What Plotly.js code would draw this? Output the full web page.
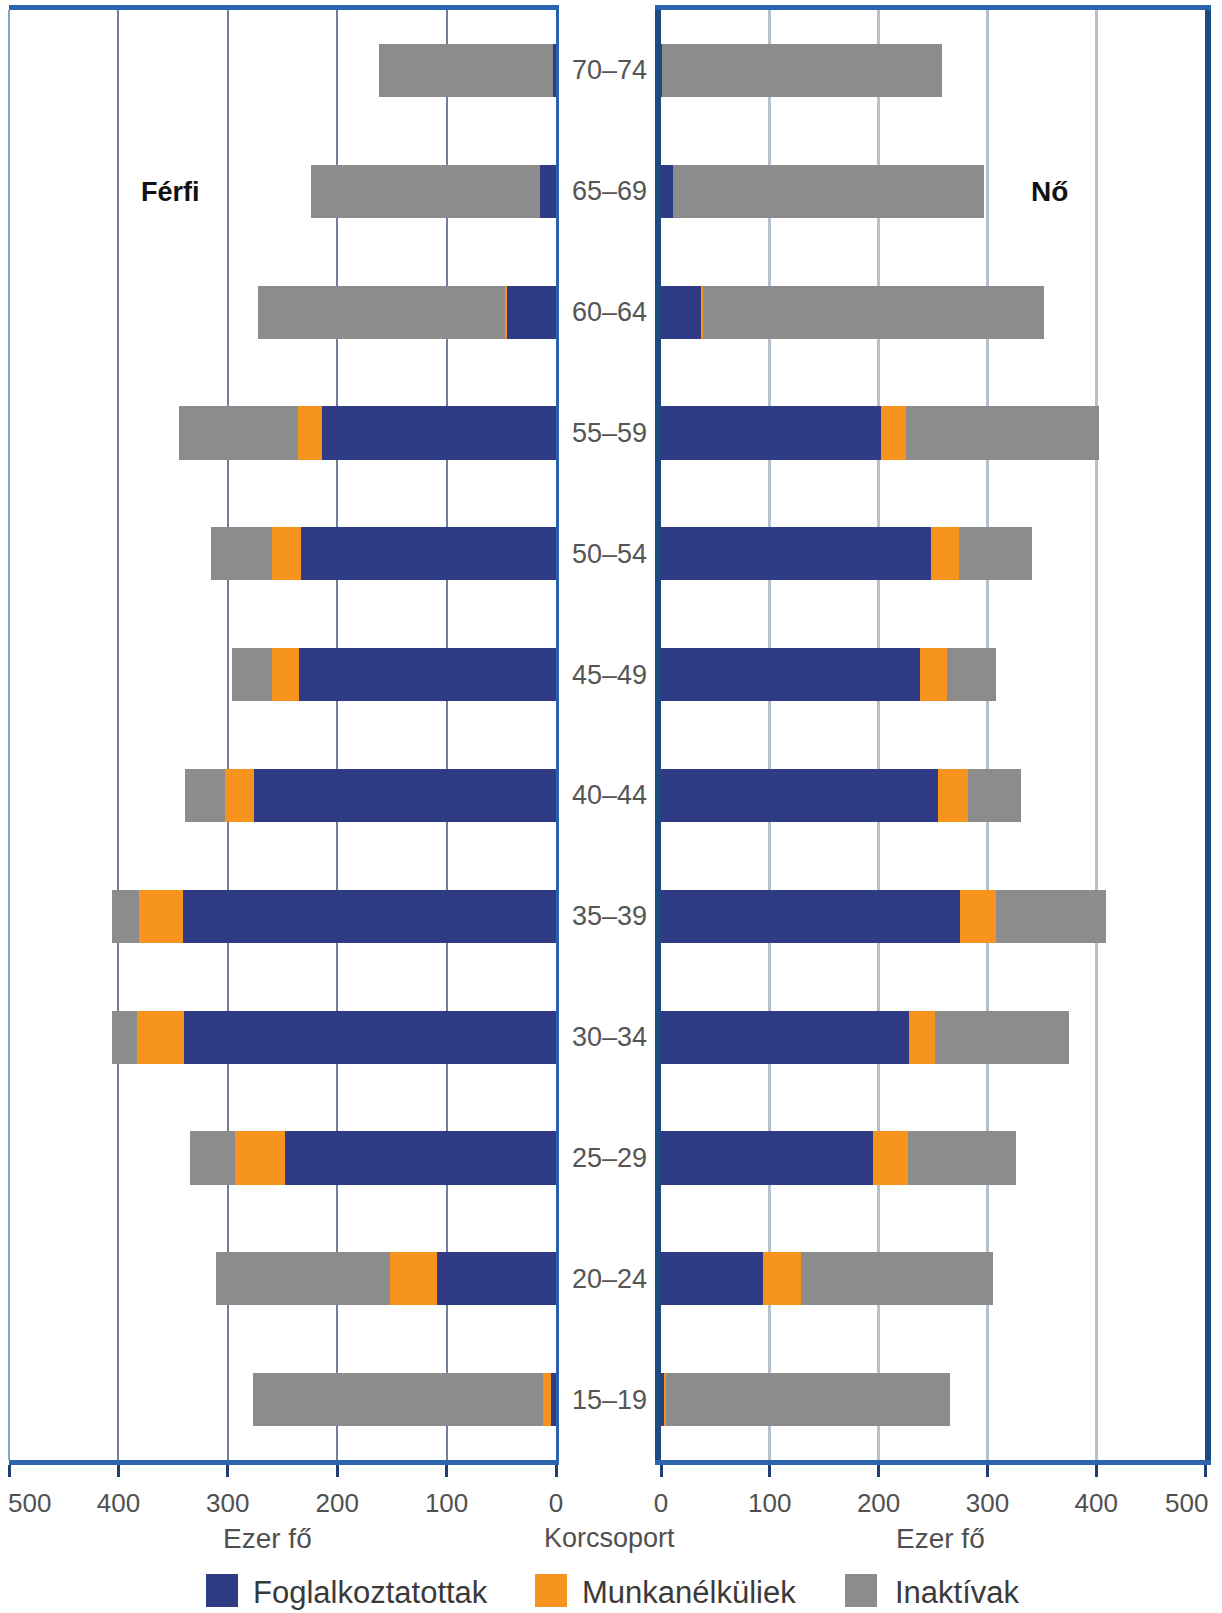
<!DOCTYPE html>
<html>
<head>
<meta charset="utf-8">
<script src="https://cdn.plot.ly/plotly-3.0.1.min.js"></script>
<style>html,body{margin:0;padding:0;background:#fff;}#chart{width:1222px;height:1613px;}</style>
</head>
<body>
<div id="chart"></div>
<script>
// ---- data (ezer fő) ----
const ageGroups = ['15–19','20–24','25–29','30–34','35–39','40–44','45–49','50–54','55–59','60–64','65–69','70–74'];
const seriesNames = ['Foglalkoztatottak','Munkanélküliek','Inaktívak'];
const maleEmployed   = [5, 109, 248, 340, 341, 276, 235, 233, 214, 45, 15, 3];
const maleUnemployed = [7, 43, 45, 43, 40, 27, 25, 27, 22, 2, 0, 0];
const maleInactive   = [265, 159, 42, 23, 25, 36, 36, 55, 109, 225, 209, 159];
const femaleEmployed   = [3, 94, 195, 228, 275, 255, 238, 248, 202, 37, 11, 1];
const femaleUnemployed = [2, 35, 32, 24, 33, 27, 25, 26, 23, 2, 0, 0];
const femaleInactive   = [261, 176, 99, 123, 101, 49, 45, 67, 178, 313, 286, 257];
const xTicks = [0, 100, 200, 300, 400, 500];
const panelLabels = ['Férfi', 'Nő'];
const axisTitle = 'Ezer fő';
const centerTitle = 'Korcsoport';

// ---- styling ----
const colors = ['#303b85', '#f7941d', '#8c8c8c'];
const FONT = '"Liberation Sans", Arial, sans-serif';
const W = 1222, H = 1613;
const px = v => v / W;
const py = v => 1 - v / H;
const leftDom = [px(9), px(556)];
const rightDom = [px(661), px(1205)];
const yDom = [py(1460), py(10)];
const xMax = xTicks[xTicks.length - 1];

const maleSeries = [maleEmployed, maleUnemployed, maleInactive];
const femaleSeries = [femaleEmployed, femaleUnemployed, femaleInactive];

const traces = [];
maleSeries.forEach((vals, i) => {
  traces.push({type: 'bar', orientation: 'h', name: seriesNames[i], x: vals, y: ageGroups,
    xaxis: 'x', yaxis: 'y', marker: {color: colors[i], line: {width: 0}}, showlegend: false, hoverinfo: 'x+y+name'});
});
femaleSeries.forEach((vals, i) => {
  traces.push({type: 'bar', orientation: 'h', name: seriesNames[i], x: vals, y: ageGroups,
    xaxis: 'x2', yaxis: 'y2', marker: {color: colors[i], line: {width: 0}}, showlegend: false, hoverinfo: 'x+y+name'});
});

const tickFont = {family: FONT, size: 26, color: '#505050'};
// the edge label (500) is drawn as a nudged annotation so it stays inside the page
const tickText = xTicks.map(v => v === xMax ? '' : String(v));
const commonX = {
  tickvals: xTicks, ticktext: tickText, tickfont: tickFont,
  showline: true, linecolor: '#2c64ae', linewidth: 5, mirror: true,
  ticks: 'outside', ticklen: 12, tickwidth: 3, tickcolor: '#1f3d70',
  zeroline: false, fixedrange: true, ticklabelstandoff: 4
};

const layout = {
  width: W, height: H,
  margin: {l: 0, r: 0, t: 0, b: 0},
  paper_bgcolor: '#ffffff', plot_bgcolor: '#ffffff',
  barmode: 'stack', bargap: 0.56,
  font: {family: FONT},
  xaxis: Object.assign({}, commonX, {domain: leftDom, range: [xMax, 0], anchor: 'y',
    showgrid: true, gridcolor: '#71809a', gridwidth: 2}),
  xaxis2: Object.assign({}, commonX, {domain: rightDom, range: [0, xMax], anchor: 'y2',
    showgrid: true, gridcolor: '#b7c0cd', gridwidth: 3}),
  yaxis: {domain: yDom, anchor: 'x', side: 'right', type: 'category', categoryarray: ageGroups,
    range: [-0.5, ageGroups.length - 0.5], showticklabels: false, ticks: '', showgrid: false,
    zeroline: false, showline: true, linecolor: '#2a62b0', linewidth: 3, fixedrange: true},
  yaxis2: {domain: yDom, anchor: 'x2', side: 'left', matches: 'y', type: 'category',
    showticklabels: false, ticks: '', showgrid: false, zeroline: false,
    showline: true, linecolor: '#1d4a80', linewidth: 6, mirror: true, fixedrange: true},
  shapes: [
    {type: 'line', xref: 'paper', yref: 'paper', x0: leftDom[0], x1: leftDom[0], y0: yDom[0], y1: yDom[1],
      line: {color: '#8fa3c0', width: 2}}
  ],
  annotations: []
};

// edge tick labels (500), nudged inward like in the original
layout.annotations.push({xref: 'x', yref: 'paper', x: xMax, y: py(1503), xshift: 20, text: String(xMax),
  showarrow: false, xanchor: 'center', yanchor: 'middle', font: tickFont});
layout.annotations.push({xref: 'x2', yref: 'paper', x: xMax, y: py(1503), xshift: -19, text: String(xMax),
  showarrow: false, xanchor: 'center', yanchor: 'middle', font: tickFont});

// age group labels in the middle
ageGroups.forEach(g => {
  layout.annotations.push({xref: 'paper', yref: 'y', x: px(609), y: g, text: g, showarrow: false,
    xanchor: 'center', yanchor: 'middle', font: {family: FONT, size: 27, color: '#555555'}});
});
// panel labels
layout.annotations.push({xref: 'paper', yref: 'paper', x: px(170), y: py(192), text: '<b>' + panelLabels[0] + '</b>',
  showarrow: false, xanchor: 'center', yanchor: 'middle', font: {family: FONT, size: 27, color: '#111111'}});
layout.annotations.push({xref: 'paper', yref: 'paper', x: px(1049), y: py(192), text: '<b>' + panelLabels[1] + '</b>',
  showarrow: false, xanchor: 'center', yanchor: 'middle', font: {family: FONT, size: 28, color: '#111111'}});
// axis titles
[[267, axisTitle, 28], [609, centerTitle, 27], [940, axisTitle, 28]].forEach(([x, t, s]) => {
  layout.annotations.push({xref: 'paper', yref: 'paper', x: px(x), y: py(1538), text: t, showarrow: false,
    xanchor: 'center', yanchor: 'middle', font: {family: FONT, size: s, color: '#505050'}});
});
// legend (drawn as swatches + text)
const legendItems = [[206, 251], [535, 580], [845, 893]];
legendItems.forEach(([sx, tx], i) => {
  layout.shapes.push({type: 'rect', xref: 'paper', yref: 'paper', x0: px(sx), x1: px(sx + 32),
    y0: py(1607), y1: py(1574), fillcolor: colors[i], line: {width: 0}});
  layout.annotations.push({xref: 'paper', yref: 'paper', x: px(tx), y: py(1592), text: seriesNames[i],
    showarrow: false, xanchor: 'left', yanchor: 'middle', font: {family: FONT, size: 31, color: '#3a3a3a'}});
});

Plotly.newPlot('chart', traces, layout, {staticPlot: true, displayModeBar: false});
</script>
</body>
</html>
